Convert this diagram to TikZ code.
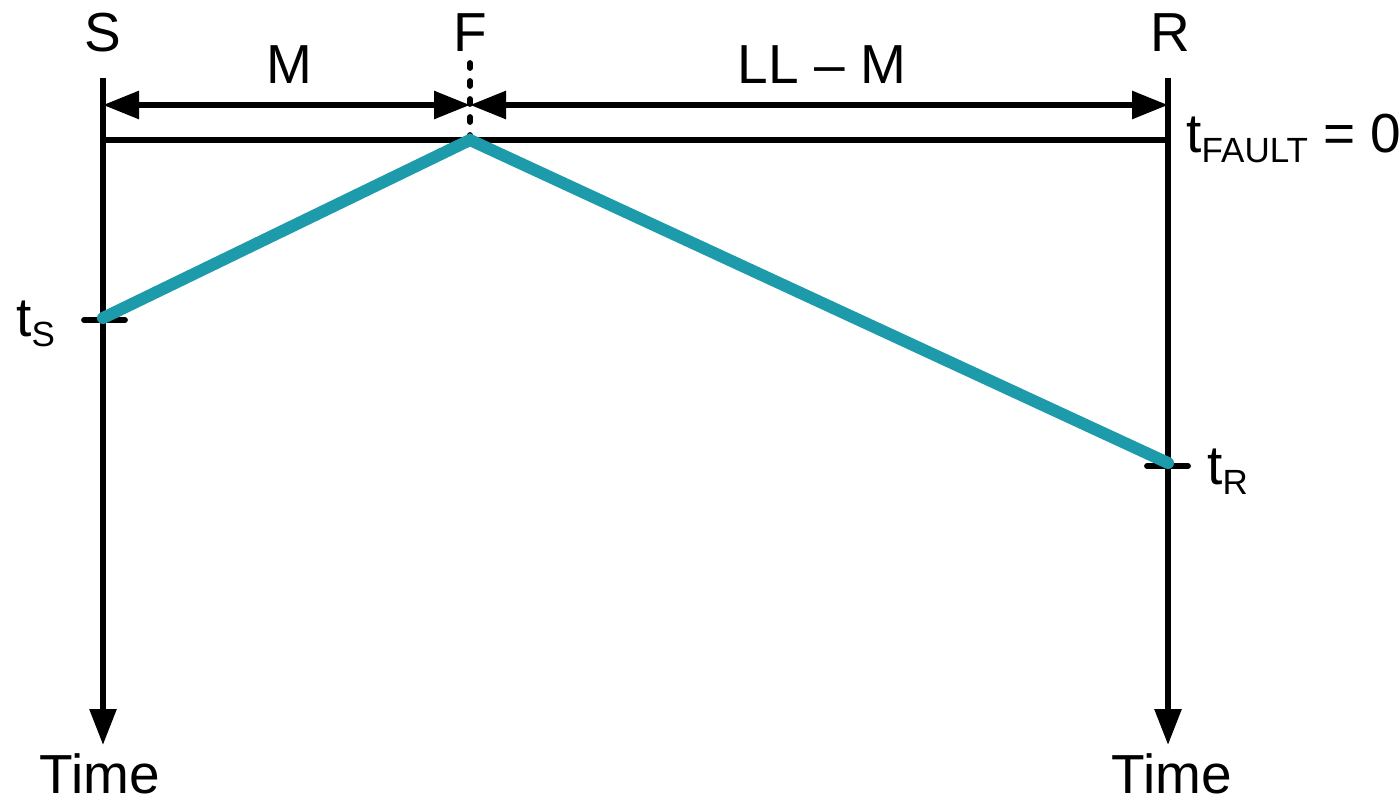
\documentclass[tikz,border=0pt]{standalone}
\usepackage{fontspec}
\setmainfont{Liberation Sans}
\usetikzlibrary{arrows.meta}
\definecolor{teal1}{RGB}{30,155,170}
\tikzset{
  lbl/.style={inner sep=0pt, font=\fontsize{27.5}{30}\selectfont},
  axis/.style={line width=2.9pt, -{Triangle[length=18pt,width=13pt]}},
  dim/.style={line width=2.9pt, {Triangle[length=18pt,width=13.5pt]}-{Triangle[length=18pt,width=13.5pt]}},
  thin/.style={line width=2.9pt},
  ray/.style={line width=6pt, teal1, line cap=round, line join=miter},
  tick/.style={line width=2.9pt, line cap=round}
}
\newcommand{\sub}[1]{\raisebox{-5pt}{\fontsize{17.5}{17.5}\selectfont #1}}
\begin{document}
\begin{tikzpicture}[x=0.5pt,y=-0.5pt]
\useasboundingbox (0,0) rectangle (1400,802);
% coordinates
\coordinate (Stop) at (103,78);
\coordinate (Sbot) at (103,745);
\coordinate (Rtop) at (1168,78);
\coordinate (Rbot) at (1168,745);
\coordinate (Ftop) at (470,52);
\coordinate (Fbot) at (470,140);
\coordinate (DS) at (103,105);
\coordinate (DF) at (470,105);
\coordinate (DR) at (1168,105);
\coordinate (HS) at (103,140);
\coordinate (HR) at (1168,140);
\coordinate (tS) at (103,318);
\coordinate (tR) at (1168,463);
\coordinate (tSa) at (84,320);
\coordinate (tSb) at (125,320);
\coordinate (tRa) at (1147,466);
\coordinate (tRb) at (1188,466);
% axes
\draw[axis] (Stop) -- (Sbot);
\draw[axis] (Rtop) -- (Rbot);
\draw[thin] (HS) -- (HR);
\draw[line width=2.9pt, dash pattern=on 2.5pt off 6.5pt, line cap=round] (Fbot) -- (Ftop);
% dimensions
\draw[dim] (DS) -- (DF);
\draw[dim] (DF) -- (DR);
% ticks
\draw[tick] (tSa) -- (tSb);
\draw[tick] (tRa) -- (tRb);
% ray
\draw[ray] (tS) -- (Fbot) -- (tR);
% labels
\node[lbl, anchor=base] (lS) at (103,52) {S};
\node[lbl, anchor=base] (lF) at (470,52) {F};
\node[lbl, anchor=base] (lR) at (1170,52) {R};
\node[lbl, anchor=base] (lM) at (289,84) {M};
\node[lbl, anchor=base] (lLL) at (822,84) {LL – M};
\node[lbl, anchor=base] (lT1) at (100,793) {Time};
\node[lbl, anchor=base] (lT2) at (1172,793) {Time};
\node[lbl, anchor=base west] (lFault) at (1186,153) {t\sub{FAULT} = 0};
\node[lbl, anchor=base west] (lts) at (16,336) {t\sub{S}};
\node[lbl, anchor=base west] (ltr) at (1207,484) {t\sub{R}};
\end{tikzpicture}
\end{document}
